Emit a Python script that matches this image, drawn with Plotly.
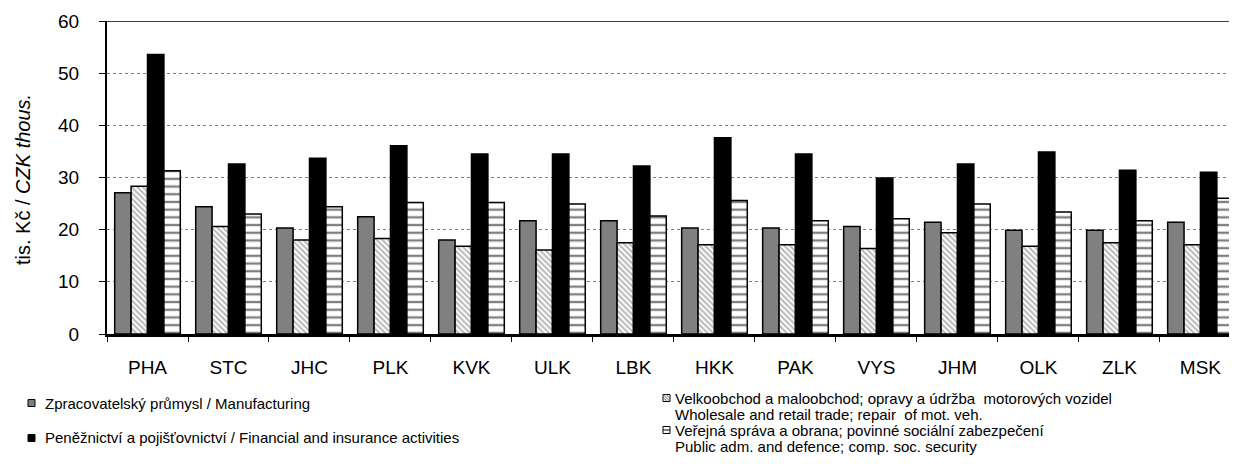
import plotly.graph_objects as go

regions = ["PHA", "STC", "JHC", "PLK", "KVK", "ULK", "LBK", "HKK", "PAK", "VYS", "JHM", "OLK", "ZLK", "MSK"]

manufacturing = [27.1, 24.4, 20.3, 22.5, 18.0, 21.7, 21.7, 20.3, 20.3, 20.6, 21.4, 19.9, 19.9, 21.4]
wholesale = [28.3, 20.6, 18.0, 18.3, 16.8, 16.1, 17.5, 17.1, 17.1, 16.4, 19.4, 16.8, 17.5, 17.1]
financial = [53.6, 32.6, 33.7, 36.1, 34.5, 34.5, 32.2, 37.6, 34.5, 29.9, 32.6, 34.9, 31.4, 31.0]
public_adm = [31.3, 23.0, 24.4, 25.2, 25.2, 24.9, 22.6, 25.6, 21.7, 22.1, 24.9, 23.4, 21.7, 26.0]

legend_lines = [
    ["Zpracovatelský průmysl / Manufacturing"],
    ["Velkoobchod a maloobchod; opravy a údržba  motorových vozidel",
     "Wholesale and retail trade; repair  of mot. veh."],
    ["Peněžnictví a pojišťovnictví / Financial and insurance activities"],
    ["Veřejná správa a obrana; povinné sociální zabezpečení",
     "Public adm. and defence; comp. soc. security"],
]

FONT = "Arial, Liberation Sans, sans-serif"
W, H = 1237, 471
OFF = 8  # page body margin offsets the figure in the screenshot
L, T = 107 - OFF, 21 - OFF
B = H - (334 - OFF)
PW, PH = W - L, H - T - B


def px(x):
    # screenshot pixel -> paper x
    return (x - OFF - L) / PW


def py(y):
    # screenshot pixel -> paper y
    return (H - B - (y - OFF)) / PH


outline = dict(color="black", width=1.5)

fig = go.Figure()
fig.add_trace(go.Bar(x=regions, y=manufacturing, name="Manufacturing",
                     marker=dict(color="#808080", line=outline)))
fig.add_trace(go.Bar(x=regions, y=wholesale, name="Wholesale",
                     marker=dict(color="white", line=outline,
                                 pattern=dict(shape="\\", fgcolor="#707070", bgcolor="white",
                                              size=4, solidity=0.5))))
fig.add_trace(go.Bar(x=regions, y=financial, name="Financial",
                     marker=dict(color="black", line=outline)))
fig.add_trace(go.Bar(x=regions, y=public_adm, name="Public",
                     marker=dict(color="white", line=outline,
                                 pattern=dict(shape="-", fgcolor="black", bgcolor="white",
                                              size=7.7, solidity=0.3))))

# solid top border at 60
fig.add_shape(type="line", xref="paper", yref="y", x0=0, x1=1, y0=60, y1=60,
              line=dict(color="black", width=1.5))

fig.add_annotation(text="tis. Kč / <i>CZK thous.</i>", textangle=-90,
                   xref="paper", yref="paper", x=px(23), y=py(180),
                   xanchor="center", yanchor="middle", showarrow=False,
                   font=dict(size=20, color="black", family=FONT))

# legend drawn by hand: (symbol x, text x, line y positions) in screenshot pixels
legend_pos = [
    (28, 43, [403]),
    (663, 673, [398, 414]),
    (28, 43, [438]),
    (663, 673, [430, 446]),
]
for i, (sx, tx, ys) in enumerate(legend_pos):
    for line, y in zip(legend_lines[i], ys):
        fig.add_annotation(text=line, xref="paper", yref="paper", x=px(tx), y=py(y),
                           xanchor="left", yanchor="middle", showarrow=False,
                           font=dict(size=15, color="black", family=FONT))
    y0 = ys[0]
    fill = ["#808080", "white", "black", "white"][i]
    fig.add_shape(type="rect", xref="paper", yref="paper",
                  x0=px(sx), x1=px(sx + 7), y0=py(y0 + 3.5), y1=py(y0 - 3.5),
                  line=dict(color="black", width=1), fillcolor=fill)
    if i == 1:
        for d in (-3, 0, 3):
            fig.add_shape(type="line", xref="paper", yref="paper",
                          x0=px(sx + max(0, d)), y0=py(y0 - 3.5 + max(0, -d)),
                          x1=px(sx + 7 + min(0, d)), y1=py(y0 + 3.5 - max(0, d)),
                          line=dict(color="#606060", width=1))
    if i == 3:
        fig.add_shape(type="line", xref="paper", yref="paper",
                      x0=px(sx), x1=px(sx + 7), y0=py(y0), y1=py(y0),
                      line=dict(color="black", width=1))

fig.update_layout(
    width=W, height=H,
    margin=dict(l=L, r=0, t=T, b=B, autoexpand=False),
    paper_bgcolor="white", plot_bgcolor="white",
    font=dict(family=FONT, color="black"),
    barmode="group", bargap=0.19, bargroupgap=0,
    showlegend=False,
    xaxis=dict(range=[-0.5, 13.55], showline=True, linecolor="black", linewidth=2.5,
               ticks="outside", tickson="boundaries", ticklen=5, tickcolor="black",
               ticklabelstandoff=14, tickfont=dict(size=19), showgrid=False),
    yaxis=dict(range=[0, 60], tickvals=[0, 10, 20, 30, 40, 50, 60],
               showline=True, linecolor="black", linewidth=2,
               ticks="outside", ticklen=6, tickcolor="black", ticklabelstandoff=16,
               tickfont=dict(size=19), showgrid=True, gridcolor="#808080",
               griddash="dot", gridwidth=1, zeroline=False),
)

fig.write_html("out.html")
